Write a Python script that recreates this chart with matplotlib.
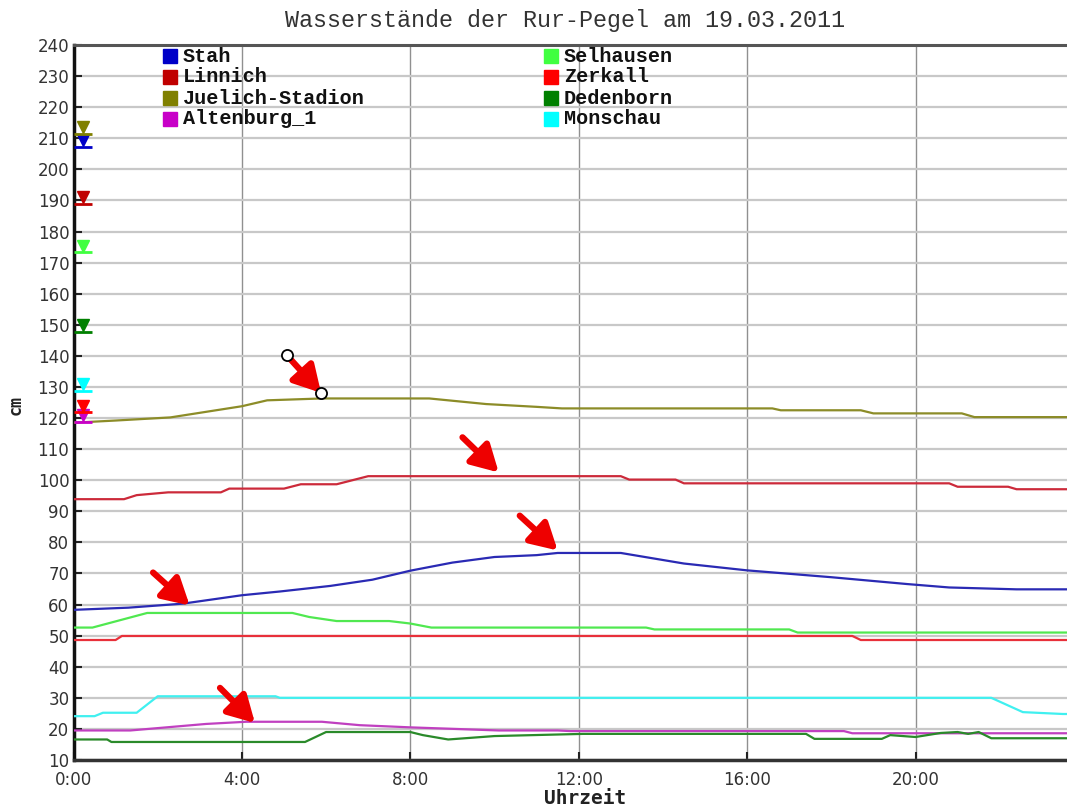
import matplotlib
matplotlib.use('Agg')
import matplotlib.pyplot as plt

# Pegel names and colours (legend order, column-wise)
names = ['Stah', 'Linnich', 'Juelich-Stadion', 'Altenburg_1',
         'Selhausen', 'Zerkall', 'Dedenborn', 'Monschau']
patch_colors = ['#0000c8', '#c00000', '#808000', '#c800c8',
                '#40ff40', '#ff0000', '#008000', '#00ffff']
line_colors = ['#2a2ab4', '#cc2a3a', '#8c8c28', '#c040c0',
               '#50e850', '#e8303a', '#2a8a2a', '#40f0f0']

# time in hours, level in cm
stah_t = [0, 1.3, 2.6, 4, 4.9, 6.1, 7.1, 8, 9, 10, 11, 11.5, 13, 14.5, 16,
          18, 19.8, 20.8, 22.4, 24]
stah_v = [58.3, 59, 60.3, 63, 64.2, 66, 68, 70.9, 73.5, 75.3, 75.9, 76.6,
          76.6, 73.2, 71, 68.8, 66.6, 65.5, 64.9, 64.9]

linnich_t = [0, 1.2, 1.5, 2.25, 3.5, 3.7, 5.0, 5.4, 6.25, 7.0, 13.0, 13.2,
             14.3, 14.5, 20.8, 21.0, 22.2, 22.4, 24]
linnich_v = [93.9, 93.9, 95.2, 96.1, 96.1, 97.3, 97.3, 98.7, 98.7, 101.3,
             101.3, 100.2, 100.2, 99, 99, 97.9, 97.9, 97.1, 97.1]

juelich_t = [0, 1, 2.3, 4, 4.6, 5.9, 8.45, 9.8, 11, 11.6, 16.6, 16.8, 18.7,
             19.0, 21.1, 21.4, 24]
juelich_v = [118.5, 119.2, 120.2, 123.8, 125.7, 126.3, 126.3, 124.5, 123.6,
             123.1, 123.1, 122.5, 122.5, 121.5, 121.5, 120.3, 120.3]

altenburg_t = [0, 1.35, 3.15, 4.1, 5.9, 6.8, 8.0, 10.1, 11.5, 11.8, 18.3,
               18.5, 24]
altenburg_v = [19.5, 19.5, 21.6, 22.3, 22.3, 21.2, 20.5, 19.5, 19.5, 19.3,
               19.3, 18.6, 18.6]

selhausen_t = [0, 0.45, 1.75, 5.2, 5.6, 6.25, 7.5, 8.0, 8.5, 13.6, 13.8,
               17.0, 17.2, 24]
selhausen_v = [52.6, 52.6, 57.3, 57.3, 56, 54.7, 54.7, 53.9, 52.6, 52.6, 52,
               52, 51, 51]

zerkall_t = [0, 1.0, 1.15, 18.5, 18.7, 24]
zerkall_v = [48.6, 48.6, 49.9, 49.9, 48.6, 48.6]

dedenborn_t = [0, 0.8, 0.9, 5.5, 6.0, 8.0, 8.3, 8.9, 10.0, 12.1, 17.4, 17.6,
               19.2, 19.4, 20.0, 20.6, 21.0, 21.25, 21.5, 21.8, 24]
dedenborn_v = [16.6, 16.6, 15.8, 15.8, 19, 19, 18, 16.6, 17.7, 18.4, 18.4,
               16.8, 16.8, 18, 17.4, 18.7, 19, 18.4, 19, 17, 17]

monschau_t = [0, 0.5, 0.7, 1.5, 2.0, 4.8, 4.9, 21.8, 22.55, 23.5, 24]
monschau_v = [24.1, 24.1, 25.2, 25.2, 30.5, 30.5, 30, 30, 25.4, 24.8, 24.8]

series_t = [stah_t, linnich_t, juelich_t, altenburg_t,
            selhausen_t, zerkall_t, dedenborn_t, monschau_t]
series_v = [stah_v, linnich_v, juelich_v, altenburg_v,
            selhausen_v, zerkall_v, dedenborn_v, monschau_v]

# warning levels shown at the left edge
alarm_levels = [209.4, 191, 213.5, 121, 175.5, 124, 149.8, 131]

# red arrows (start -> end, hours / cm)
arrow_start = [(5.06, 140.3), (9.24, 113.8), (10.6, 88.6), (1.89, 70.3),
               (3.48, 33.2)]
arrow_end = [(5.88, 128.1), (10.1, 102.5), (11.5, 77.4), (2.76, 59.7),
             (4.31, 21.9)]

W, H = 1067, 810
fig = plt.figure(figsize=(W / 100, H / 100), dpi=100)
ax = fig.add_axes([73.5 / W, 50 / H, (W - 73.5) / W, 715 / H])

for t, v, c in zip(series_t, series_v, line_colors):
    ax.plot(t, v, color=c, lw=1.6, zorder=3)

for lvl, c in zip(alarm_levels, patch_colors):
    ax.plot(0.23, lvl, marker='v', ms=9, color=c, zorder=4)
    ax.plot(0.23, lvl - 2.2, marker='_', ms=13, mew=2, color=c, zorder=4)

for (x0, y0), (x1, y1) in zip(arrow_start, arrow_end):
    ax.annotate('', xy=(x1, y1), xytext=(x0, y0),
                arrowprops=dict(arrowstyle='-|>,head_length=0.8,head_width=0.45',
                                color='#ee0000', lw=4.5, shrinkA=0, shrinkB=0,
                                mutation_scale=20),
                zorder=5)

# the two small circles on the first arrow
ax.plot([arrow_start[0][0], arrow_end[0][0]],
        [arrow_start[0][1], arrow_end[0][1]], 'o', ms=8, mfc='white',
        mec='black', mew=1.3, ls='none', zorder=6)

ax.set_xlim(0, (W - 73.5) / 42.1)
ax.set_ylim(10, 240)
ax.set_yticks(range(10, 241, 10))
ax.set_xticks(range(0, 21, 4))
ax.set_xticklabels(['{}:00'.format(h) for h in range(0, 21, 4)])
ax.grid(axis='y', color='#c8c8c8', lw=1.6)
ax.grid(axis='x', color='#909090', lw=1)
ax.set_axisbelow(True)

ax.tick_params(axis='both', direction='in', length=6, width=1.5,
               labelsize=12, labelcolor='#333333', color='#222222')
ax.tick_params(axis='y', pad=3)
ax.tick_params(axis='x', pad=8)

ax.spines['right'].set_visible(False)
ax.spines['left'].set_linewidth(2.5)
ax.spines['left'].set_color('#111111')
ax.spines['bottom'].set_linewidth(2.5)
ax.spines['bottom'].set_color('#333333')
ax.spines['top'].set_linewidth(2.2)
ax.spines['top'].set_color('#555555')

fig.text(565 / W, 1 - 20 / H, 'Wasserstände der Rur-Pegel am 19.03.2011',
         ha='center', va='center', fontsize=16.8, family='Liberation Mono',
         color='#333333')
fig.text(585 / W, 1 - 798 / H, 'Uhrzeit', ha='center', va='center',
         fontsize=14, family='DejaVu Sans Mono', weight='bold', color='#222222')
fig.text(16 / W, 1 - 405 / H, 'cm', ha='center', va='center', rotation=90,
         fontsize=12, family='DejaVu Sans Mono', weight='bold', color='#222222')

# legend, two columns of four
for i, (name, c) in enumerate(zip(names, patch_colors)):
    col, row = divmod(i, 4)
    px = [170, 551][col]
    py = 56 + row * 21
    fig.patches.append(plt.Rectangle(((px - 7) / W, 1 - (py + 7) / H),
                                     14 / W, 14 / H, color=c,
                                     transform=fig.transFigure, figure=fig))
    fig.text((px + 13) / W, 1 - py / H, name, ha='left', va='center',
             fontsize=14.5, family='Liberation Mono', weight='bold',
             color='#111111')

plt.savefig('out.png', dpi=100)
plt.close()
